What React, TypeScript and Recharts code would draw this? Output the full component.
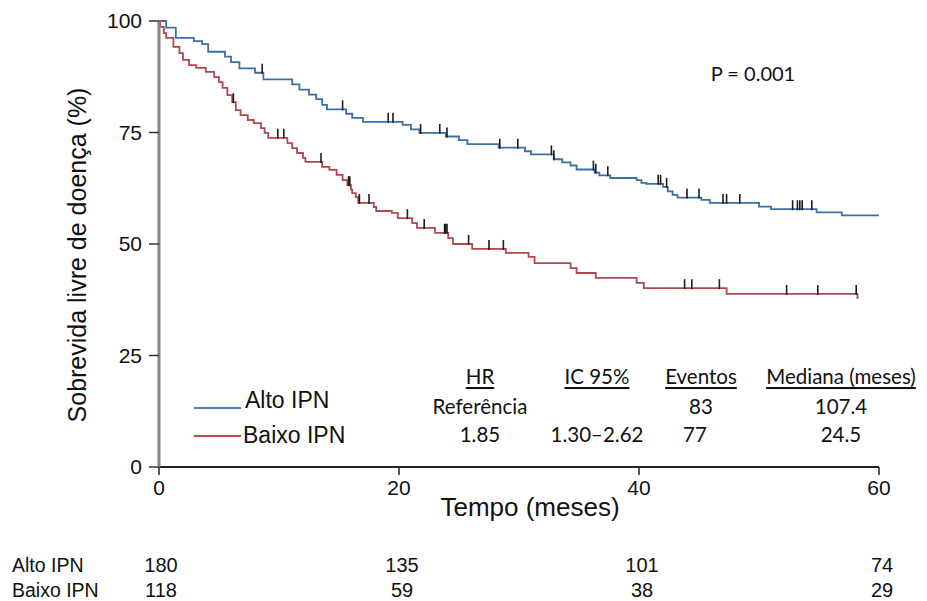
import React from 'react'
import { ComposedChart, Line, Scatter, XAxis, YAxis } from 'recharts'

// Kaplan-Meier steps (months, % disease-free)
const altoTimes = [0, 0.6, 1.4, 2.9, 3.6, 4.1, 5.5, 6.0, 6.7, 8.0, 8.7, 11.1, 11.7, 12.5, 13.1, 13.6, 14.0, 15.6, 16.1, 17.0, 20.3, 21.0, 21.7, 23.9, 25.0, 25.7, 28.3, 30.5, 31.0, 32.9, 33.6, 34.3, 34.8, 36.3, 36.7, 37.6, 39.8, 40.2, 40.6, 42.0, 42.4, 42.8, 43.2, 45.2, 45.9, 50.0, 51.0, 54.8, 56.9, 60]
const altoSurv = [100, 98.5, 96.2, 95.5, 94.8, 93.1, 92.0, 90.8, 89.4, 88.4, 86.9, 85.8, 84.6, 83.5, 82.5, 81.2, 80.2, 79.2, 78.3, 77.4, 76.7, 75.7, 74.9, 74.1, 73.3, 72.4, 71.6, 70.8, 70.1, 69.0, 68.3, 67.6, 66.7, 66.0, 65.4, 64.8, 64.3, 63.7, 63.5, 62.8, 61.8, 61.0, 60.4, 59.9, 59.2, 58.4, 57.8, 57.1, 56.4, 56.4]

const baixoTimes = [0, 0.1, 0.4, 0.6, 1.2, 1.7, 2.0, 2.5, 3.1, 3.9, 4.6, 5.0, 5.3, 5.7, 6.1, 6.4, 6.8, 7.4, 7.9, 8.5, 8.8, 9.1, 10.7, 11.1, 11.5, 12.0, 12.2, 13.6, 14.2, 14.8, 15.3, 15.7, 16.0, 16.1, 16.4, 16.6, 17.9, 18.1, 19.4, 19.9, 21.1, 21.5, 23.0, 24.1, 24.5, 26.1, 28.9, 30.8, 31.3, 34.3, 34.8, 36.4, 39.8, 40.4, 47.3, 58.2, 58.3]
const baixoSurv = [100, 98.7, 97.3, 96.2, 94.2, 92.8, 91.3, 90.1, 89.5, 88.6, 87.4, 86.3, 85.0, 83.4, 81.8, 80.0, 78.9, 77.8, 77.1, 76.0, 74.9, 73.8, 72.6, 71.5, 70.4, 69.3, 68.4, 67.3, 66.6, 65.5, 64.3, 63.2, 62.2, 61.4, 60.5, 59.2, 58.3, 57.4, 57.0, 55.8, 54.7, 53.6, 52.5, 51.3, 50.0, 48.9, 48.0, 47.1, 45.7, 44.6, 43.5, 42.4, 41.3, 40.1, 38.8, 37.9, 37.9]

const altoCensored = [8.6, 15.3, 19.1, 19.5, 21.8, 23.4, 24.0, 28.4, 29.9, 32.7, 32.9, 36.2, 36.4, 37.4, 41.6, 41.8, 42.3, 44.0, 45.0, 47.0, 47.3, 48.4, 52.8, 53.2, 53.4, 53.6, 54.4]
const baixoCensored = [6.2, 9.9, 10.4, 13.5, 15.8, 15.9, 16.7, 17.5, 20.7, 22.1, 23.8, 23.9, 24.0, 25.8, 27.5, 28.7, 43.8, 44.4, 46.7, 52.3, 54.9, 58.1]

const xTicks = [0, 20, 40, 60]
const yTicks = [0, 25, 50, 75, 100]

const riskTimes = [0, 20, 40, 60]
const altoAtRisk = [180, 135, 101, 74]
const baixoAtRisk = [118, 59, 38, 29]

const statsHeaders = ['HR', 'IC 95%', 'Eventos', 'Mediana (meses)']
const altoStats = ['Referência', '', '83', '107.4']
const baixoStats = ['1.85', '1.30–2.62', '77', '24.5']

const BLUE = '#3e6fa2'
const RED = '#b3474e'
const ARIAL = '"Liberation Sans", Arial, sans-serif'
const CALIBRI = 'Lato, "Open Sans", sans-serif'

const W = 927
const H = 601
const M = { top: 21, right: 48, bottom: 94, left: 0 }
const Y_AXIS_W = 159
const X_AXIS_H = 40

const toSteps = (ts: number[], vs: number[]) => ts.map((t, i) => ({ t, v: vs[i] }))
const altoCurve = toSteps(altoTimes, altoSurv)
const baixoCurve = toSteps(baixoTimes, baixoSurv)

function stepAt(curve: { t: number; v: number }[], t: number) {
  let v = curve[0].v
  for (const p of curve) if (p.t <= t) v = p.v
  return v
}

const altoMarks = altoCensored.map((t) => ({ t, v: stepAt(altoCurve, t) }))
const baixoMarks = baixoCensored.map((t) => ({ t, v: stepAt(baixoCurve, t) }))

// pixel helpers for the text laid over the chart (same frame as the plot)
const plotLeft = M.left + Y_AXIS_W
const plotRight = W - M.right
const xPx = (t: number) => plotLeft + (t / 60) * (plotRight - plotLeft)

function CensorMark(props: any) {
  const { cx, cy } = props
  if (cx == null || cy == null) return null
  return <line x1={cx} x2={cx} y1={cy - 9} y2={cy + 1} stroke="#1c1c1c" strokeWidth={1.6} />
}

const statCols = [480, 597, 701, 841]

export default function App() {
  return (
    <div style={{ position: 'absolute', left: 0, top: 0, width: W, height: H, background: '#fff' }}>
      <ComposedChart width={W} height={H} margin={M}>
        <XAxis
          type="number"
          dataKey="t"
          domain={[0, 60]}
          ticks={xTicks}
          height={X_AXIS_H}
          tickSize={8}
          tickMargin={5}
          axisLine={{ stroke: '#222', strokeWidth: 2 }}
          tickLine={{ stroke: '#222', strokeWidth: 1.5 }}
          tick={{ fill: '#111', fontSize: 21, fontFamily: ARIAL }}
        />
        <YAxis
          type="number"
          dataKey="v"
          domain={[0, 100]}
          ticks={yTicks}
          width={Y_AXIS_W}
          tickSize={10}
          tickMargin={7}
          axisLine={{ stroke: '#858585', strokeWidth: 3 }}
          tickLine={{ stroke: '#333', strokeWidth: 1.5 }}
          tick={{ fill: '#111', fontSize: 21, fontFamily: ARIAL }}
        />
        <Line
          data={altoCurve}
          dataKey="v"
          type="stepAfter"
          stroke={BLUE}
          strokeWidth={1.8}
          dot={false}
          isAnimationActive={false}
        />
        <Line
          data={baixoCurve}
          dataKey="v"
          type="stepAfter"
          stroke={RED}
          strokeWidth={1.8}
          dot={false}
          isAnimationActive={false}
        />
        <Scatter data={altoMarks} dataKey="v" shape={CensorMark} isAnimationActive={false} />
        <Scatter data={baixoMarks} dataKey="v" shape={CensorMark} isAnimationActive={false} />
      </ComposedChart>

      <svg
        width={W}
        height={H}
        style={{ position: 'absolute', left: 0, top: 0, pointerEvents: 'none' }}
      >
        <text
          transform="translate(77,255) rotate(-90)"
          textAnchor="middle"
          dominantBaseline="central"
          fontFamily={ARIAL}
          fontSize={25}
          fill="#111"
        >
          Sobrevida livre de doença (%)
        </text>
        <text x={530} y={507} textAnchor="middle" dominantBaseline="central" fontFamily={ARIAL} fontSize={26} fill="#111">
          Tempo (meses)
        </text>
        <text x={753} y={73} textAnchor="middle" dominantBaseline="central" fontFamily={CALIBRI} fontSize={20} fill="#111">
          P = 0.001
        </text>

        {/* legend */}
        <line x1={194} x2={241} y1={408} y2={408} stroke="#4f7fb5" strokeWidth={1.8} />
        <text x={245} y={400} dominantBaseline="central" fontFamily={ARIAL} fontSize={23} fill="#111">
          Alto IPN
        </text>
        <line x1={194} x2={241} y1={436} y2={436} stroke="#c0504d" strokeWidth={1.8} />
        <text x={243} y={435} dominantBaseline="central" fontFamily={ARIAL} fontSize={23} fill="#111">
          Baixo IPN
        </text>

        {/* stats table */}
        {statsHeaders.map((h, i) => (
          <text
            key={h}
            x={statCols[i]}
            y={376}
            textAnchor="middle"
            dominantBaseline="central"
            fontFamily={CALIBRI}
            fontSize={20.5}
            fill="#111"
            textDecoration="underline"
          >
            {h}
          </text>
        ))}
        {altoStats.map((s, i) => (
          <text key={'a' + i} x={statCols[i]} y={406} textAnchor="middle" dominantBaseline="central" fontFamily={CALIBRI} fontSize={20.5} fill="#111">
            {s}
          </text>
        ))}
        {baixoStats.map((s, i) => (
          <text key={'b' + i} x={statCols[i] - (i === 2 ? 6 : 0)} y={434} textAnchor="middle" dominantBaseline="central" fontFamily={CALIBRI} fontSize={20.5} fill="#111">
            {s}
          </text>
        ))}

        {/* numbers at risk */}
        <text x={12} y={565} dominantBaseline="central" fontFamily={ARIAL} fontSize={19.5} fill="#111">
          Alto IPN
        </text>
        <text x={12} y={590} dominantBaseline="central" fontFamily={ARIAL} fontSize={19.5} fill="#111">
          Baixo IPN
        </text>
        {riskTimes.map((t, i) => (
          <text key={'ra' + t} x={xPx(t) + (i === 0 ? 2 : 3)} y={565} textAnchor="middle" dominantBaseline="central" fontFamily={ARIAL} fontSize={20} fill="#111">
            {altoAtRisk[i]}
          </text>
        ))}
        {riskTimes.map((t, i) => (
          <text key={'rb' + t} x={xPx(t) + (i === 0 ? 2 : 3)} y={590} textAnchor="middle" dominantBaseline="central" fontFamily={ARIAL} fontSize={20} fill="#111">
            {baixoAtRisk[i]}
          </text>
        ))}
      </svg>
    </div>
  )
}
